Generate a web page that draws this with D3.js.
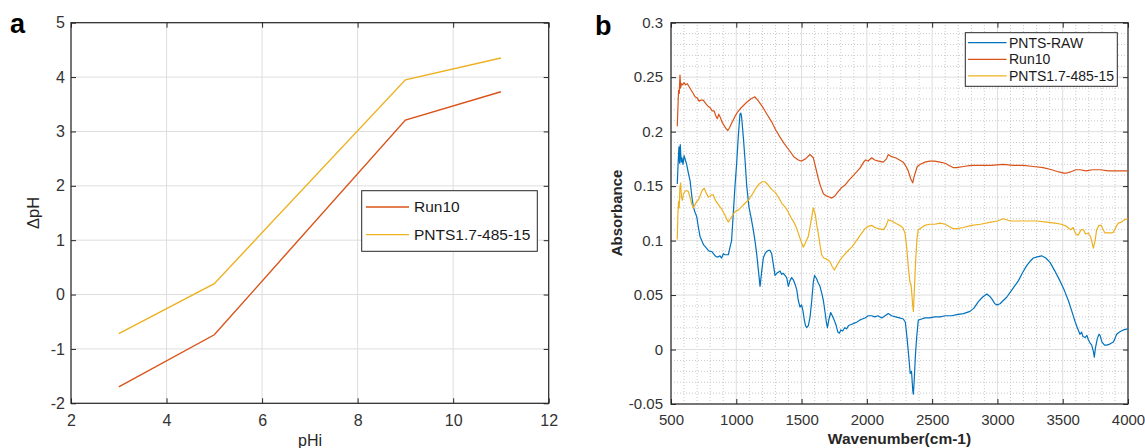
<!DOCTYPE html>
<html>
<head>
<meta charset="utf-8">
<script src="https://cdn.jsdelivr.net/npm/d3@7"></script>
<style>
  body { margin: 0; background: #fff; }
  svg { display: block; font-family: "Liberation Sans", Arial, sans-serif; }
  .tick text { fill: #333; }
</style>
</head>
<body>
<div id="chart"></div>
<script>
// ---- panel a: ΔpH vs pHi ----
const phi = [3, 5, 9, 11];
const run10DpH = [-1.70, -0.74, 3.21, 3.73];
const pnts17DpH = [-0.72, 0.20, 3.95, 4.35];
const xTicksA = [2, 4, 6, 8, 10, 12];
const yTicksA = [-2, -1, 0, 1, 2, 3, 4, 5];
const legendA = ['Run10', 'PNTS1.7-485-15'];

// ---- panel b: FTIR spectra, [wavenumber, absorbance] ----
const pntsRaw = [[548,0.152],[556,0.175],[561,0.186],[566,0.171],[571,0.188],[578,0.172],[584,0.176],[592,0.170],[600,0.178],[610,0.174],[620,0.170],[633,0.162],[646,0.155],[660,0.140],[671,0.131],[684,0.126],[697,0.122],[710,0.112],[722,0.104],[735,0.100],[750,0.096],[765,0.094],[786,0.091],[800,0.090],[811,0.090],[825,0.088],[838,0.086],[850,0.085],[862,0.085],[875,0.086],[888,0.084],[901,0.088],[914,0.087],[926,0.087],[939,0.087],[952,0.094],[964,0.100],[977,0.125],[990,0.150],[1003,0.171],[1015,0.195],[1028,0.216],[1035,0.217],[1041,0.213],[1054,0.195],[1067,0.174],[1080,0.150],[1097,0.131],[1115,0.120],[1130,0.110],[1143,0.100],[1156,0.088],[1170,0.072],[1182,0.058],[1195,0.072],[1207,0.084],[1220,0.088],[1233,0.090],[1246,0.091],[1258,0.091],[1271,0.088],[1284,0.078],[1297,0.068],[1310,0.070],[1322,0.071],[1335,0.072],[1348,0.069],[1360,0.070],[1373,0.068],[1386,0.066],[1399,0.058],[1411,0.063],[1424,0.066],[1437,0.064],[1450,0.060],[1463,0.055],[1475,0.045],[1488,0.039],[1500,0.041],[1510,0.036],[1520,0.028],[1530,0.022],[1539,0.020],[1552,0.022],[1565,0.030],[1578,0.045],[1590,0.062],[1600,0.068],[1615,0.065],[1628,0.061],[1641,0.058],[1654,0.052],[1667,0.045],[1680,0.034],[1690,0.025],[1698,0.020],[1710,0.028],[1723,0.034],[1735,0.031],[1750,0.027],[1765,0.022],[1778,0.016],[1790,0.015],[1800,0.018],[1815,0.017],[1830,0.020],[1845,0.019],[1860,0.022],[1880,0.023],[1900,0.024],[1922,0.025],[1945,0.027],[1965,0.028],[1986,0.029],[2010,0.031],[2037,0.031],[2060,0.030],[2085,0.031],[2114,0.029],[2140,0.031],[2164,0.033],[2190,0.031],[2220,0.030],[2250,0.029],[2279,0.028],[2295,0.025],[2310,0.008],[2322,-0.008],[2332,-0.022],[2342,-0.020],[2352,-0.038],[2356,-0.041],[2362,-0.030],[2372,-0.005],[2382,0.012],[2394,0.027],[2420,0.028],[2445,0.029],[2480,0.029],[2520,0.030],[2560,0.030],[2600,0.031],[2650,0.031],[2688,0.032],[2740,0.033],[2790,0.035],[2820,0.038],[2854,0.044],[2885,0.048],[2918,0.051],[2940,0.049],[2960,0.046],[2980,0.042],[2998,0.041],[3020,0.042],[3045,0.045],[3071,0.048],[3100,0.053],[3130,0.058],[3160,0.063],[3190,0.070],[3224,0.077],[3250,0.081],[3275,0.084],[3305,0.085],[3339,0.086],[3370,0.084],[3403,0.080],[3440,0.072],[3479,0.063],[3510,0.055],[3543,0.045],[3570,0.035],[3594,0.026],[3615,0.019],[3632,0.014],[3645,0.016],[3655,0.012],[3671,0.011],[3685,0.013],[3696,0.009],[3710,0.006],[3722,0.004],[3735,-0.002],[3742,-0.007],[3750,0.001],[3765,0.010],[3778,0.014],[3786,0.013],[3800,0.007],[3820,0.004],[3837,0.004],[3860,0.005],[3888,0.007],[3900,0.010],[3913,0.014],[3935,0.016],[3964,0.018],[3998,0.019]];

const run10Abs = [[548,0.205],[553,0.222],[558,0.238],[563,0.235],[569,0.252],[574,0.240],[580,0.244],[590,0.243],[600,0.245],[612,0.243],[625,0.244],[640,0.241],[655,0.238],[670,0.235],[684,0.232],[700,0.231],[715,0.228],[730,0.229],[747,0.229],[765,0.226],[786,0.223],[800,0.222],[815,0.219],[830,0.219],[845,0.214],[855,0.212],[866,0.216],[878,0.213],[890,0.209],[905,0.206],[920,0.203],[935,0.201],[950,0.204],[970,0.209],[990,0.214],[1010,0.218],[1030,0.221],[1055,0.224],[1080,0.227],[1110,0.230],[1143,0.232],[1170,0.228],[1200,0.223],[1235,0.216],[1271,0.209],[1300,0.202],[1335,0.195],[1373,0.188],[1411,0.182],[1440,0.177],[1475,0.174],[1500,0.173],[1530,0.175],[1565,0.179],[1590,0.176],[1610,0.166],[1628,0.157],[1645,0.150],[1667,0.143],[1690,0.141],[1710,0.140],[1731,0.139],[1755,0.141],[1780,0.145],[1810,0.149],[1833,0.151],[1860,0.155],[1890,0.159],[1922,0.163],[1950,0.167],[1975,0.172],[1990,0.174],[2010,0.173],[2037,0.176],[2060,0.174],[2090,0.173],[2126,0.172],[2150,0.175],[2164,0.179],[2190,0.177],[2220,0.176],[2250,0.174],[2279,0.172],[2300,0.168],[2317,0.164],[2335,0.157],[2351,0.153],[2365,0.160],[2386,0.168],[2410,0.170],[2445,0.172],[2480,0.173],[2520,0.173],[2560,0.172],[2600,0.171],[2630,0.169],[2660,0.167],[2690,0.167],[2740,0.168],[2800,0.169],[2870,0.169],[2950,0.169],[3045,0.170],[3120,0.169],[3200,0.169],[3275,0.168],[3350,0.167],[3416,0.165],[3470,0.163],[3510,0.162],[3530,0.162],[3560,0.163],[3600,0.165],[3632,0.165],[3680,0.164],[3730,0.165],[3786,0.165],[3850,0.164],[3920,0.164],[3998,0.164]];

const pnts17Abs = [[548,0.101],[553,0.125],[558,0.136],[563,0.130],[568,0.148],[574,0.153],[580,0.140],[587,0.137],[595,0.143],[607,0.145],[620,0.146],[633,0.145],[645,0.140],[658,0.134],[671,0.130],[684,0.133],[697,0.136],[709,0.137],[722,0.141],[738,0.146],[755,0.148],[768,0.144],[786,0.140],[800,0.141],[812,0.142],[824,0.142],[840,0.137],[858,0.134],[875,0.131],[888,0.129],[901,0.126],[915,0.123],[930,0.119],[939,0.117],[955,0.120],[975,0.124],[995,0.127],[1015,0.128],[1040,0.131],[1065,0.134],[1092,0.137],[1120,0.142],[1150,0.148],[1175,0.152],[1200,0.154],[1220,0.154],[1245,0.151],[1270,0.147],[1300,0.144],[1322,0.140],[1350,0.134],[1373,0.131],[1395,0.127],[1420,0.121],[1445,0.116],[1463,0.111],[1480,0.105],[1500,0.098],[1513,0.094],[1530,0.098],[1552,0.104],[1570,0.116],[1590,0.130],[1605,0.124],[1618,0.113],[1630,0.105],[1645,0.093],[1654,0.087],[1670,0.084],[1690,0.083],[1705,0.082],[1720,0.080],[1735,0.076],[1751,0.073],[1770,0.077],[1794,0.082],[1820,0.086],[1850,0.090],[1884,0.094],[1915,0.099],[1950,0.105],[1986,0.111],[2010,0.113],[2037,0.114],[2060,0.112],[2090,0.111],[2126,0.110],[2145,0.113],[2164,0.119],[2190,0.118],[2220,0.116],[2250,0.114],[2275,0.112],[2292,0.107],[2305,0.094],[2318,0.075],[2330,0.062],[2340,0.058],[2350,0.042],[2356,0.035],[2364,0.055],[2373,0.080],[2384,0.102],[2394,0.110],[2420,0.112],[2445,0.114],[2480,0.115],[2520,0.115],[2560,0.116],[2600,0.115],[2630,0.113],[2660,0.111],[2690,0.111],[2740,0.112],[2800,0.114],[2870,0.115],[2950,0.117],[3000,0.118],[3045,0.120],[3100,0.118],[3160,0.118],[3220,0.118],[3300,0.118],[3380,0.117],[3440,0.116],[3490,0.115],[3530,0.113],[3560,0.110],[3580,0.112],[3600,0.106],[3619,0.105],[3640,0.110],[3658,0.110],[3675,0.106],[3696,0.107],[3715,0.103],[3735,0.093],[3748,0.100],[3760,0.110],[3778,0.114],[3795,0.114],[3810,0.110],[3824,0.107],[3850,0.107],[3875,0.107],[3890,0.108],[3910,0.113],[3926,0.116],[3950,0.117],[3970,0.119],[3998,0.120]];

const xTicksB = [500, 1000, 1500, 2000, 2500, 3000, 3500, 4000];
const yTicksB = [-0.05, 0, 0.05, 0.1, 0.15, 0.2, 0.25, 0.3];
const legendB = ['PNTS-RAW', 'Run10', 'PNTS1.7-485-15'];

const BLUE = '#0072BD', RED = '#D95319', YELLOW = '#EDB120';
const AXIS = '#262626';

// plain number labels: hyphen minus, no thousands separator
const plain = d => String(+(+d).toFixed(2));

const svg = d3.select('#chart').append('svg')
  .attr('width', 1145).attr('height', 448);

// draws axes box, grid, inward ticks on all four sides
function drawFrame(g, x, y, xTicks, yTicks, fs, pad) {
  const [x0, x1] = x.range();
  const [y0, y1] = y.range();   // y0 = bottom

  g.append('g').selectAll('line').data(xTicks).join('line')
    .attr('x1', d => x(d)).attr('x2', d => x(d))
    .attr('y1', y0).attr('y2', y1)
    .attr('stroke', '#dedede').attr('stroke-width', 1);
  g.append('g').selectAll('line').data(yTicks).join('line')
    .attr('x1', x0).attr('x2', x1)
    .attr('y1', d => y(d)).attr('y2', d => y(d))
    .attr('stroke', '#dedede').attr('stroke-width', 1);

  const bottom = g.append('g').attr('transform', `translate(0,${y0})`)
    .call(d3.axisBottom(x).tickValues(xTicks).tickSize(-5).tickSizeOuter(0)
      .tickPadding(pad.x).tickFormat(plain));
  const left = g.append('g').attr('transform', `translate(${x0},0)`)
    .call(d3.axisLeft(y).tickValues(yTicks).tickSize(-5).tickSizeOuter(0)
      .tickPadding(pad.y).tickFormat(plain));
  const top = g.append('g').attr('transform', `translate(0,${y1})`)
    .call(d3.axisTop(x).tickValues(xTicks).tickSize(-5).tickSizeOuter(0).tickFormat(''));
  const right = g.append('g').attr('transform', `translate(${x1},0)`)
    .call(d3.axisRight(y).tickValues(yTicks).tickSize(-5).tickSizeOuter(0).tickFormat(''));

  [bottom, left, top, right].forEach(a => {
    a.select('.domain').remove();
    a.selectAll('.tick line').attr('stroke', AXIS);
    a.selectAll('.tick text').attr('font-size', fs).attr('font-family', '"Liberation Sans", Arial, sans-serif');
  });

  g.append('rect')
    .attr('x', x0).attr('y', y1).attr('width', x1 - x0).attr('height', y0 - y1)
    .attr('fill', 'none').attr('stroke', AXIS).attr('stroke-width', 1.2);
}

function drawLegend(g, box, names, colors, fs, rowY, lineX, textX) {
  g.append('rect')
    .attr('x', box.x).attr('y', box.y).attr('width', box.w).attr('height', box.h)
    .attr('fill', '#fff').attr('stroke', AXIS).attr('stroke-width', 1);
  names.forEach((n, i) => {
    g.append('line')
      .attr('x1', lineX[0]).attr('x2', lineX[1])
      .attr('y1', rowY[i]).attr('y2', rowY[i])
      .attr('stroke', colors[i]).attr('stroke-width', 1.3);
    g.append('text')
      .attr('x', textX).attr('y', rowY[i]).attr('dy', '0.35em')
      .attr('font-size', fs).attr('fill', '#1a1a1a')
      .text(n);
  });
}

// ---------- panel a ----------
const ga = svg.append('g');
const xa = d3.scaleLinear().domain([2, 12]).range([71, 548.7]);
const ya = d3.scaleLinear().domain([-2, 5]).range([403.3, 22.7]);
drawFrame(ga, xa, ya, xTicksA, yTicksA, 16, {x: 11, y: 6});

const lineA = d3.line().x(d => xa(d[0])).y(d => ya(d[1]));
[[run10DpH, RED], [pnts17DpH, YELLOW]].forEach(([vals, c]) => {
  ga.append('path')
    .datum(phi.map((p, i) => [p, vals[i]]))
    .attr('d', lineA)
    .attr('fill', 'none').attr('stroke', c).attr('stroke-width', 1.4);
});

drawLegend(ga, {x: 361.7, y: 190.7, w: 175.6, h: 60.6}, legendA, [RED, YELLOW],
  15.5, [207, 234.7], [366, 409], 414);

ga.append('text').attr('x', 310).attr('y', 446)
  .attr('text-anchor', 'middle').attr('font-size', 16).attr('fill', '#262626')
  .text('pHi');
ga.append('text')
  .attr('transform', 'translate(39,213) rotate(-90)')
  .attr('text-anchor', 'middle').attr('font-size', 16.5).attr('fill', '#262626')
  .text('ΔpH');
ga.append('text').attr('x', 10).attr('y', 33)
  .attr('font-size', 27).attr('font-weight', 'bold').attr('fill', '#000')
  .text('a');

// ---------- panel b ----------
const gb = svg.append('g');
const xb = d3.scaleLinear().domain([500, 4000]).range([671, 1128]);
const yb = d3.scaleLinear().domain([-0.05, 0.3]).range([404, 22.7]);

// minor dotted grid
const xMinor = d3.range(600, 4000, 100).filter(v => v % 500 !== 0);
const yMinor = d3.range(-40, 300, 10).filter(v => v % 50 !== 0).map(v => v / 1000);
gb.append('g').selectAll('line').data(xMinor).join('line')
  .attr('x1', d => xb(d)).attr('x2', d => xb(d))
  .attr('y1', 404).attr('y2', 22.7)
  .attr('stroke', '#c8c8c8').attr('stroke-width', 1).attr('stroke-dasharray', '1,2');
gb.append('g').selectAll('line').data(yMinor).join('line')
  .attr('x1', 671).attr('x2', 1128)
  .attr('y1', d => yb(d)).attr('y2', d => yb(d))
  .attr('stroke', '#c8c8c8').attr('stroke-width', 1).attr('stroke-dasharray', '1,2');

drawFrame(gb, xb, yb, xTicksB, yTicksB, 15, {x: 10, y: 8});

const lineB = d3.line().x(d => xb(d[0])).y(d => yb(d[1]));
[[pntsRaw, BLUE], [run10Abs, RED], [pnts17Abs, YELLOW]].forEach(([vals, c]) => {
  gb.append('path')
    .datum(vals)
    .attr('d', lineB)
    .attr('fill', 'none').attr('stroke', c).attr('stroke-width', 1.2)
    .attr('stroke-linejoin', 'round');
});

drawLegend(gb, {x: 965.3, y: 32.7, w: 152, h: 53.6}, legendB, [BLUE, RED, YELLOW],
  14, [42.7, 59.3, 75.8], [968, 1006.5], 1009);

gb.append('text').attr('x', 899.5).attr('y', 444)
  .attr('text-anchor', 'middle').attr('font-size', 15.5).attr('font-weight', 'bold')
  .attr('fill', '#262626')
  .text('Wavenumber(cm-1)');
gb.append('text')
  .attr('transform', 'translate(622,213) rotate(-90)')
  .attr('text-anchor', 'middle').attr('font-size', 15).attr('font-weight', 'bold')
  .attr('fill', '#262626')
  .text('Absorbance');
gb.append('text').attr('x', 595).attr('y', 35)
  .attr('font-size', 27).attr('font-weight', 'bold').attr('fill', '#000')
  .text('b');
</script>
</body>
</html>
